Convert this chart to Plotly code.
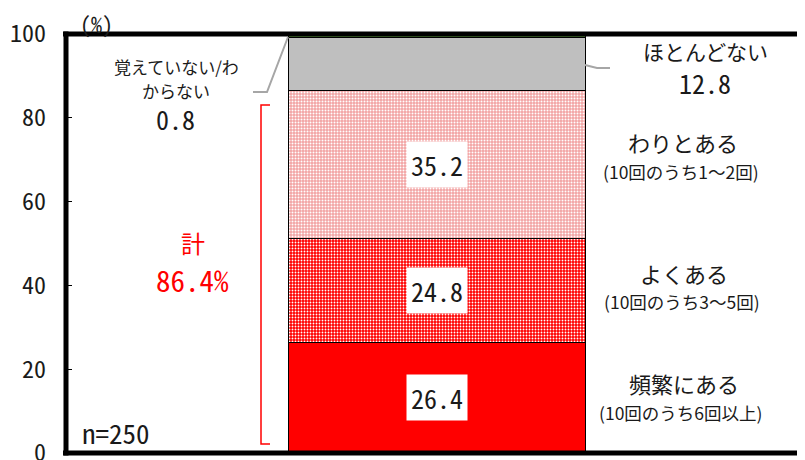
import plotly.graph_objects as go

# ---- data ----
categories = ["頻繁にある", "よくある", "わりとある", "ほとんどない", "覚えていない/わからない"]
values = [26.4, 24.8, 35.2, 12.8, 0.8]
sub_labels = ["(10回のうち6回以上)", "(10回のうち3～5回)", "(10回のうち1～2回)", "", ""]
total_label = "86.4%"
n_label = "n=250"
y_ticks = [0, 20, 40, 60, 80, 100]

OFF = 8  # page body margin
W, H = 805, 460
L, R, T, B = 58, 0, 26, 15
PW = W - L - R
PH = H - T - B
BAR_PX0, BAR_PX1 = 288, 585          # screen pixels
unit = BAR_PX1 - BAR_PX0
xa = -0.5 - (BAR_PX0 - (L + OFF)) / unit
xb = xa + PW / unit

def px2x(px):
    return xa + (px - (L + OFF)) / unit

def py2y(py):
    return (T + OFF + PH - py) / PH * 100

MONO = "Noto Sans Mono CJK JP, DejaVu Sans Mono, monospace"
JP = "Noto Sans CJK JP, sans-serif"

styles = [
    dict(color="#ff0000"),
    dict(color="#ff0000", pattern=dict(shape=".", bgcolor="#ff0000", fgcolor="white", size=3, solidity=0.3, fillmode="replace")),
    dict(color="#f4a6a6", pattern=dict(shape=".", bgcolor="#f3a3a3", fgcolor="white", size=3, solidity=0.35, fillmode="replace")),
    dict(color="#bfbfbf"),
    dict(color="#5b9b3a"),
]

fig = go.Figure()
for cat, v, st in zip(categories, values, styles):
    fig.add_trace(go.Bar(
        x=[0], y=[v], name=cat, width=1,
        marker=dict(**st, line=dict(color="black", width=1)),
        hoverinfo="skip", showlegend=False,
    ))

ann = []
cum = 0
mids = []
for v in values:
    mids.append(cum + v / 2)
    cum += v
for i in range(3):
    ann.append(dict(x=0, y=mids[i], text=f"{values[i]:.1f}", showarrow=False,
                    font=dict(family=MONO, size=26, color="#1a1a1a"),
                    bgcolor="white", borderpad=4))

right = [
    ("頻繁にある", 684, 383, 22), ("(10回のうち6回以上)", 680, 412, 17.5),
    ("よくある", 684, 273, 22), ("(10回のうち3～5回)", 682, 301, 17.5),
    ("わりとある", 683, 142, 22), ("(10回のうち1～2回)", 681, 171, 17.5),
    ("ほとんどない", 705, 51, 21),
]
for t, px, py, s in right:
    ann.append(dict(x=px2x(px), y=py2y(py), text=t, showarrow=False,
                    font=dict(family=JP, size=s, color="#1a1a1a")))
ann.append(dict(x=px2x(705), y=py2y(82), text=f"{values[3]:.1f}", showarrow=False,
                font=dict(family=MONO, size=26, color="#1a1a1a")))

ann.append(dict(x=px2x(176), y=py2y(66), text="覚えていない/わ", showarrow=False,
                font=dict(family=JP, size=17, color="#1a1a1a")))
ann.append(dict(x=px2x(176), y=py2y(90), text="からない", showarrow=False,
                font=dict(family=JP, size=17, color="#1a1a1a")))
ann.append(dict(x=px2x(175), y=py2y(118), text=f"{values[4]:.1f}", showarrow=False,
                font=dict(family=MONO, size=26, color="#1a1a1a")))
ann.append(dict(x=px2x(193), y=py2y(242), text="計", showarrow=False,
                font=dict(family=JP, size=24, color="#ff0000")))
ann.append(dict(x=px2x(192), y=py2y(279), text=total_label, showarrow=False,
                font=dict(family=MONO, size=29, color="#ff0000")))
ann.append(dict(x=px2x(80), y=py2y(432), text=n_label, showarrow=False, xanchor="left",
                font=dict(family=MONO, size=27, color="#1a1a1a")))
ann.append(dict(x=(96 - OFF - L) / PW, y=(T + PH - (23 - OFF)) / PH, xref="paper", yref="paper",
                xanchor="center", yanchor="middle", borderpad=0,
                text="(%)", showarrow=False,
                font=dict(family=MONO, size=22, color="#1a1a1a")))

shapes = [
    dict(type="line", xref="paper", yref="paper", x0=0, x1=0, y0=-0.006, y1=1.006,
         line=dict(color="black", width=5)),
    dict(type="line", xref="paper", yref="paper", x0=-0.004, x1=1.01, y0=1, y1=1,
         line=dict(color="black", width=5)),
    dict(type="line", xref="paper", yref="paper", x0=-0.004, x1=1.01, y0=0, y1=0,
         line=dict(color="black", width=5)),
    dict(type="path", path=f"M {px2x(288)},{py2y(37)} L {px2x(267)},{py2y(92)} L {px2x(253)},{py2y(92)}",
         line=dict(color="#a6a6a6", width=2)),
    dict(type="path", path=f"M {px2x(585)},{py2y(65)} L {px2x(597)},{py2y(68)} L {px2x(610)},{py2y(68)}",
         line=dict(color="#a6a6a6", width=2)),
    dict(type="path", path=f"M {px2x(270)},{py2y(105)} L {px2x(261)},{py2y(105)} L {px2x(261)},{py2y(444)} L {px2x(270)},{py2y(444)}",
         line=dict(color="#ff0000", width=1.5)),
]

fig.update_layout(
    width=W, height=H, barmode="stack",
    margin=dict(l=L, r=R, t=T, b=B, autoexpand=False),
    paper_bgcolor="white", plot_bgcolor="white",
    xaxis=dict(range=[xa, xb], showticklabels=False, showgrid=False, zeroline=False,
               showline=False, ticks="", automargin=False),
    yaxis=dict(range=[0, 100], tickvals=y_ticks, ticks="inside", ticklen=6, tickwidth=1,
               tickcolor="black", showgrid=False, zeroline=False, showline=False,
               ticklabelstandoff=19, automargin=False, ticklabeloverflow="allow",
               tickfont=dict(family=MONO, size=24, color="#1a1a1a")),
    annotations=ann, shapes=shapes,
)
fig.write_html("out.html")
